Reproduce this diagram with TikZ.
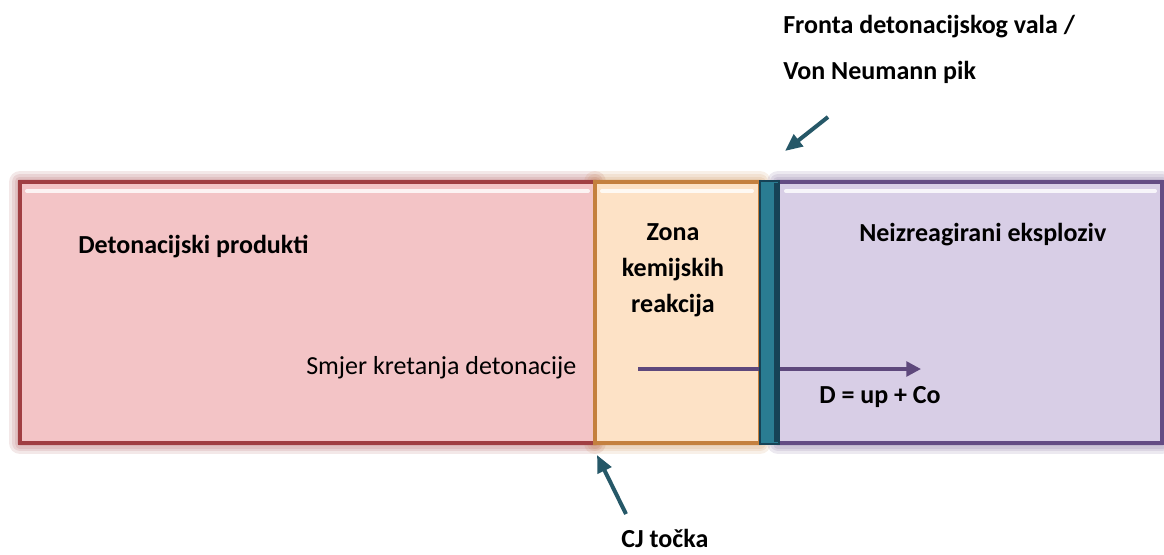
\documentclass[tikz,border=0pt]{standalone}
\usepackage{fontspec}
\setmainfont{Carlito}
\usetikzlibrary{arrows.meta}

\definecolor{prodfill}{RGB}{243,196,198}
\definecolor{prodline}{RGB}{160,62,66}
\definecolor{zonefill}{RGB}{253,226,198}
\definecolor{zoneline}{RGB}{196,128,62}
\definecolor{frontfill}{RGB}{42,124,146}
\definecolor{frontline}{RGB}{22,66,86}
\definecolor{explfill}{RGB}{216,206,230}
\definecolor{explline}{RGB}{100,76,132}
\definecolor{dircolor}{RGB}{94,72,124}
\definecolor{ptrcolor}{RGB}{38,88,104}

\tikzset{
  box/.style 2 args={draw=#1, fill=#2, line width=2.6pt},
  glow/.style={draw=#1, opacity=0.12, line join=round},
  shine/.style={white, line width=3pt, opacity=0.8, line cap=round},
  txt/.style={anchor=west, inner sep=0.75pt, font=\fontsize{19.5}{27}\selectfont},
  btxt/.style={txt, font=\fontsize{19.5}{27}\selectfont\bfseries},
  ptr/.style={ptrcolor, line width=3pt, -{Triangle[length=13pt,width=11pt]}},
  dir/.style={dircolor, line width=2.6pt, -{Triangle[length=11pt,width=11pt]}}
}

\begin{document}
\begin{tikzpicture}[x=0.75pt,y=0.75pt,yscale=-1,xscale=1]
\useasboundingbox (0,0) rectangle (1164,554);

%Glow round the boxes
\foreach \w in {22,16,11,6}{
  \draw [glow=prodline, line width=\w*0.75pt] (20,182) rectangle (595,443);
  \draw [glow=zoneline, line width=\w*0.75pt] (595,182) rectangle (760,443);
  \draw [glow=explline, line width=\w*0.75pt] (778,182) rectangle (1162,443);
}

%Shape: Rectangle [products]
\draw [box={prodline}{prodfill}] (20,182) rectangle (595,443) ;
\draw [shine] (27,191) -- (588,191) ;
%Shape: Rectangle [reaction zone]
\draw [box={zoneline}{zonefill}] (595,182) rectangle (760,443) ;
\draw [shine] (602,191) -- (752,191) ;
%Shape: Rectangle [unreacted explosive]
\draw [box={explline}{explfill}] (778,182) rectangle (1162,443) ;
\draw [shine] (786,191) -- (1155,191) ;

% Text Node
\node [btxt] (products) at (77,247) {Detonacijski produkti};
% Text Node
\node [txt] (direction) at (305,368) {Smjer kretanja detonacije};
% Text Node
\node [btxt, anchor=center, align=center] (zone) at (673,270) {Zona\\kemijskih\\reakcija};
% Text Node
\node [btxt] (unreacted) at (858,235) {Neizreagirani eksploziv};
% Text Node
\node [btxt] (velocity) at (818,397) {D = up + Co};
% Text Node
\node [btxt] (front) at (782,27) {Fronta detonacijskog vala /};
% Text Node
\node [btxt] (vonneumann) at (782,72) {Von Neumann pik};
% Text Node
\node [btxt] (cjpoint) at (620,538) {CJ točka};

\coordinate (dirstart) at (638,369);
\coordinate (dirend) at (921,369);
\coordinate (vnstart) at (828,117);
\coordinate (vnend) at (785,151);
\coordinate (cjstart) at (626,514);
\coordinate (cjend) at (597,455);

%Straight Lines
\draw [dir] (dirstart) -- (dirend) ;

%Shape: Rectangle [detonation front]
\draw [box={frontline}{frontfill}, line width=1.6pt] (760,181) rectangle (779,444) ;
\draw [frontline, line width=2.4pt] (776,183) -- (776,442) ;

%Straight Lines
\draw [ptr] (vnstart) -- (vnend) ;
%Straight Lines
\draw [ptr] (cjstart) -- (cjend) ;

\end{tikzpicture}
\end{document}
